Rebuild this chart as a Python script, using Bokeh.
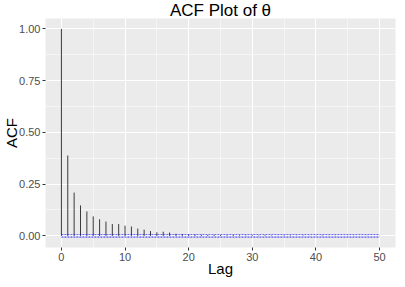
from bokeh.plotting import figure
from bokeh.models import Range1d, FixedTicker, NumeralTickFormatter
from bokeh.embed import file_html
from bokeh.resources import INLINE

lags = list(range(51))
acf = [1.000, 0.388, 0.209, 0.147, 0.118, 0.094, 0.080, 0.069, 0.057, 0.057,
       0.049, 0.045, 0.035, 0.030, 0.023, 0.017, 0.020, 0.016, 0.010, 0.009,
       0.007, 0.006, 0.005, 0.004, 0.005, 0.004, 0.003, 0.004, 0.003, 0.002,
       0.003, 0.002, 0.003, 0.002, 0.001, 0.002, 0.002, 0.001, 0.002, 0.001,
       0.001, 0.002, 0.001, 0.001, 0.000, 0.001, 0.001, 0.000, 0.001, 0.000,
       0.001]
ci = 0.006
x_ticks = [0, 10, 20, 30, 40, 50]
x_minor = [5, 15, 25, 35, 45]
y_ticks = [0.0, 0.25, 0.5, 0.75, 1.0]
y_minor = [0.125, 0.375, 0.625, 0.875]
title_text = "ACF Plot of θ"
x_label = "Lag"
y_label = "ACF"

FONT = "Liberation Sans"

p = figure(width=397, height=279, output_backend="svg", toolbar_location=None,
           x_range=Range1d(-2.5, 52.5), y_range=Range1d(-0.0563, 1.0503),
           title=title_text, min_border_left=0, min_border_right=2,
           min_border_top=0, min_border_bottom=0)

p.background_fill_color = "#EBEBEB"
p.border_fill_color = "white"
p.outline_line_color = None

p.title.text_font = FONT
p.title.text_font_size = "17px"
p.title.text_font_style = "normal"
p.title.align = "center"
p.title.standoff = -3
p.title.text_color = "black"

p.xaxis.ticker = FixedTicker(ticks=x_ticks, minor_ticks=x_minor)
p.yaxis.ticker = FixedTicker(ticks=y_ticks, minor_ticks=y_minor)
p.yaxis.formatter = NumeralTickFormatter(format="0.00")

for ax in (p.xaxis, p.yaxis):
    ax.axis_line_color = None
    ax.major_tick_line_color = "#333333"
    ax.major_tick_out = 3
    ax.major_tick_in = 0
    ax.minor_tick_line_color = None
    ax.major_label_text_font = FONT
    ax.major_label_text_font_size = "11px"
    ax.major_label_text_color = "#4D4D4D"
    ax.major_label_standoff = 1
    ax.axis_label_text_font = FONT
    ax.axis_label_text_font_size = "15px"
    ax.axis_label_text_font_style = "normal"
    ax.axis_label_text_color = "black"

p.xaxis.axis_label = x_label
p.yaxis.axis_label = y_label
p.xaxis.axis_label_standoff = -4
p.xaxis.axis_label_text_baseline = "alphabetic"
p.yaxis.axis_label_standoff = -4

for g in (p.xgrid, p.ygrid):
    g.grid_line_color = "white"
    g.grid_line_width = 1.1
    g.minor_grid_line_color = "white"
    g.minor_grid_line_width = 0.5

p.segment(x0=lags, y0=[0] * len(lags), x1=lags, y1=acf,
          line_color="#3a3a3a", line_width=1)

p.line(x=[0, 50], y=[ci, ci], line_color="blue", line_dash="2 1",
       line_width=1, line_alpha=0.6)
p.line(x=[0, 50], y=[-ci, -ci], line_color="blue", line_dash="2 1",
       line_width=1, line_alpha=0.8)

open("out.html", "w").write(file_html(p, INLINE))
